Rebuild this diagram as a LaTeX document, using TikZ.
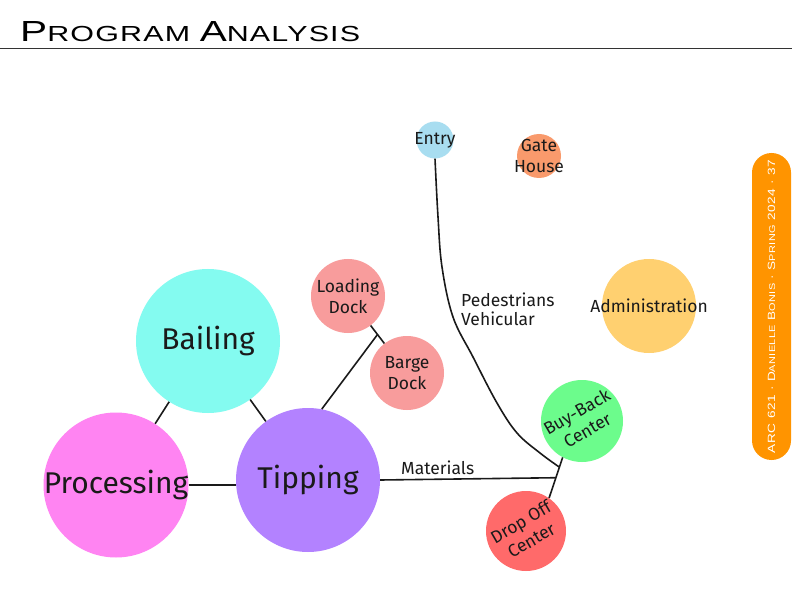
\documentclass[tikz,border=0pt]{standalone}
\usepackage{fontspec}
\setmainfont{Fira Sans}
\newfontfamily\titlefont[FakeStretch=1.55,LetterSpace=6]{Liberation Sans}
\newfontfamily\sidefont[FakeStretch=1.3,LetterSpace=5]{Liberation Sans}
\usepackage{graphicx}
\definecolor{cBail}{HTML}{84FBF0}
\definecolor{cProc}{HTML}{FF84F2}
\definecolor{cTip}{HTML}{B382FF}
\definecolor{cDock}{HTML}{F89C9C}
\definecolor{cEntry}{HTML}{A8DDF0}
\definecolor{cGate}{HTML}{F99A6C}
\definecolor{cAdmin}{HTML}{FFD070}
\definecolor{cBuy}{HTML}{6CFC8C}
\definecolor{cDrop}{HTML}{FF6A6A}
\definecolor{cSide}{HTML}{FF9400}
\definecolor{cText}{HTML}{1A1A1A}
\begin{document}
\begin{tikzpicture}[x=1pt,y=-1pt,
  bubble/.style={circle,inner sep=0pt},
  bigtxt/.style={align=center,text=cText,inner sep=0pt,font=\fontsize{30}{32}\selectfont},
  smalltxt/.style={align=center,text=cText,inner sep=0pt,font=\fontsize{17.5}{21}\selectfont},
  link/.style={line width=1.6pt,draw=cText},
  lbl/.style={font=\fontsize{17.5}{19}\selectfont,text=cText,inner sep=0pt,align=left}]
\useasboundingbox (0,0) rectangle (792,612);
\fill[white] (0,0) rectangle (792,612);
% title
\node[anchor=south west,inner sep=0pt] (title) at (20,42)
  {\resizebox{340pt}{20pt}{\titlefont\fontsize{20}{20}\selectfont P\fontsize{15}{15}\selectfont ROGRAM \fontsize{20}{20}\selectfont A\fontsize{15}{15}\selectfont NALYSIS}};
\coordinate (rl) at (0,48.5);
\coordinate (rr) at (792,48.5);
\draw[line width=1.8pt,draw=black!80] (rl) -- (rr);
% sidebar
\node[fill=cSide,rounded corners=19.5pt,minimum width=307pt,minimum height=39pt,inner sep=0pt,rotate=90,text=white] (side) at (771.5,306.5)
  {\resizebox{293pt}{!}{\sidefont\fontsize{10}{10}\selectfont ARC 621 · D{\fontsize{8}{8}\selectfont ANIELLE} B{\fontsize{8}{8}\selectfont ONIS} · S{\fontsize{8}{8}\selectfont PRING} 2024 · 37}};
% bubbles
\node[bubble,fill=cBail,minimum size=144pt,label={[bigtxt]center:Bailing}] (bail) at (208,341) {};
\node[bubble,fill=cProc,minimum size=145pt,label={[bigtxt]center:Processing}] (proc) at (116,485) {};
\node[bubble,fill=cTip,minimum size=144pt,label={[bigtxt]center:Tipping}] (tip) at (308,480) {};
\node[bubble,fill=cDock,minimum size=74pt,label={[smalltxt]center:Loading\\Dock}] (load) at (348,296) {};
\node[bubble,fill=cDock,minimum size=74pt,label={[smalltxt]center:Barge\\Dock}] (barge) at (407,373) {};
\node[bubble,fill=cEntry,minimum size=37pt,label={[smalltxt]center:Entry}] (entry) at (435,140) {};
\node[bubble,fill=cGate,minimum size=44pt,label={[smalltxt]center:Gate\\House}] (gate) at (539,156) {};
\node[bubble,fill=cAdmin,minimum size=94pt,label={[smalltxt]center:Administration}] (admin) at (649,306) {};
\node[bubble,fill=cBuy,minimum size=82pt,label={[smalltxt,rotate=30]center:Buy-Back\\Center}] (buy) at (582,421) {};
\node[bubble,fill=cDrop,minimum size=80pt,label={[smalltxt,rotate=30]center:Drop Off\\Center}] (drop) at (526,531) {};
% connectors
\draw[link] (bail) -- (proc);
\draw[link] (bail) -- (tip);
\draw[link] (proc.east) -- (proc.east -| tip.west);
\draw[link] (load) -- coordinate[pos=0.5] (ldj) (barge);
\draw[link] (tip.79) -- (ldj);
\draw[link] (buy.242) -- coordinate[pos=0.24] (cj) coordinate[pos=0.5] (mj) (drop.55);
\draw[link] (tip.east) -- (mj);
\draw[link] plot[smooth,tension=0.6] coordinates {(entry.south) (438,217) (442,267) (453,317) (473,357) (497,403) (517,433) (540,453) (cj)};
% labels
\node[lbl,anchor=west] (ped) at (461,309) {Pedestrians\\Vehicular};
\node[lbl,anchor=south west] (mat) at (401,475) {Materials};
\end{tikzpicture}
\end{document}
